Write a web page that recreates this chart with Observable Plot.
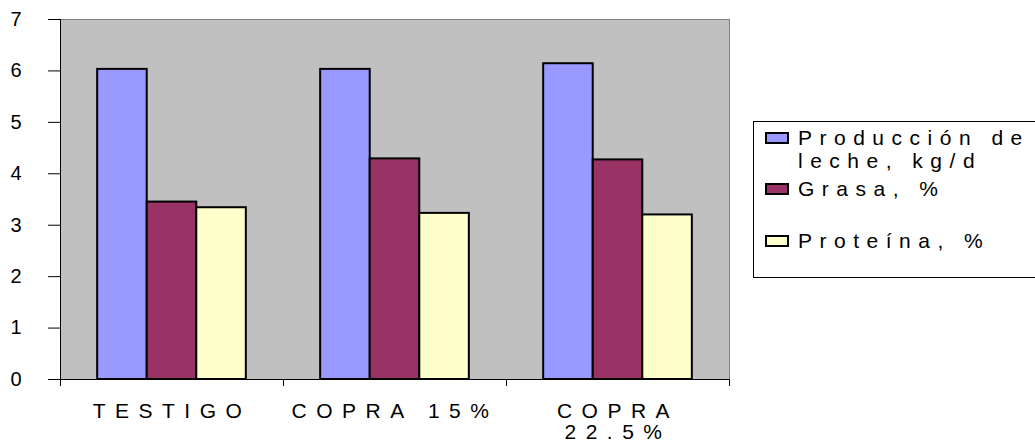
<!DOCTYPE html>
<html><head><meta charset="utf-8">
<script src="https://cdn.jsdelivr.net/npm/d3@7"></script>
<script src="https://cdn.jsdelivr.net/npm/@observablehq/plot@0.6"></script>
<style>
body{margin:0;background:#fff;}
#wrap{position:relative;width:1035px;height:441px;overflow:hidden;font-family:"Liberation Sans",Arial,sans-serif;}
#chart{position:absolute;left:0;top:0;}
#chart g[aria-label="text"] text{letter-spacing:9.5px;}
#legend{position:absolute;left:753px;top:121px;width:300px;height:155px;border:1px solid #000;background:#fff;}
.item{position:absolute;left:0;}
.sw{position:absolute;left:11px;width:20px;height:8px;border:2px solid #000;}
.lab{position:absolute;left:44px;white-space:nowrap;font-size:21px;line-height:23px;letter-spacing:7.5px;color:#000;}
</style></head>
<body><div id="wrap"><div id="chart"></div><div id="legend"></div></div>
<script>
const categories = ["TESTIGO", "COPRA 15%", "COPRA 22.5%"];
const categoryLabels = ["TESTIGO", "COPRA 15%", "COPRA\n22.5%"];
const series = ["Producción de leche, kg/d", "Grasa, %", "Proteína, %"];
const legendLines = [["Producción de", "leche, kg/d"], ["Grasa, %"], ["Proteína, %"]];
const produccion = [6.03, 6.03, 6.14];
const grasa = [3.45, 4.29, 4.27];
const proteina = [3.34, 3.23, 3.20];
const yTicks = [0, 1, 2, 3, 4, 5, 6, 7];
const colors = ["#9999FF", "#993366", "#FFFFCC"];

const values = [produccion, grasa, proteina];
const table = [];
categories.forEach((c, i) => {
  series.forEach((s, j) => {
    table.push({cat: c, series: s, value: values[j][i], x1: i + (0.75 + j) / 4.5, x2: i + (1.75 + j) / 4.5});
  });
});

const chart = Plot.plot({
  width: 735, height: 441,
  marginLeft: 60, marginRight: 6, marginTop: 19, marginBottom: 62,
  x: {domain: [0, categories.length], axis: null},
  y: {domain: [0, 7], axis: null},
  color: {domain: series, range: colors},
  style: {fontFamily: '"Liberation Sans", Arial, sans-serif', fontSize: "20px", background: "transparent", color: "#000"},
  marks: [
    Plot.frame({fill: "#C0C0C0", stroke: "#808080", strokeWidth: 1}),
    Plot.rect(table, {x1: "x1", x2: "x2", y1: 0, y2: "value", fill: "series", stroke: "#000", strokeWidth: 2}),
    Plot.ruleX([0], {stroke: "#000"}),
    Plot.ruleY([0], {stroke: "#000"}),
    Plot.axisY({ticks: yTicks, tickSize: 12, tickPadding: 27, stroke: "#000", fill: "#000", label: null, tickFormat: d => String(d)}),
    Plot.axisX({ticks: d3.range(categories.length + 1), tickSize: 7, tickFormat: () => "", label: null, stroke: "#000"}),
    Plot.text(categoryLabels, {x: (d, i) => i + 0.5, y: 0, text: d => d, dy: 22.5, lineAnchor: "top", lineHeight: 1.04, fill: "#000", fontSize: 21})
  ]
});
document.getElementById("chart").appendChild(chart);

const legend = d3.select("#legend");
const tops = [3.5, 54.5, 106.5];
series.forEach((s, j) => {
  const it = legend.append("div").attr("class", "item").style("top", tops[j] + "px");
  it.append("div").attr("class", "sw").style("top", "6.5px").style("background", colors[j]);
  it.append("div").attr("class", "lab").html(legendLines[j].join("<br>"));
});
</script></body></html>
